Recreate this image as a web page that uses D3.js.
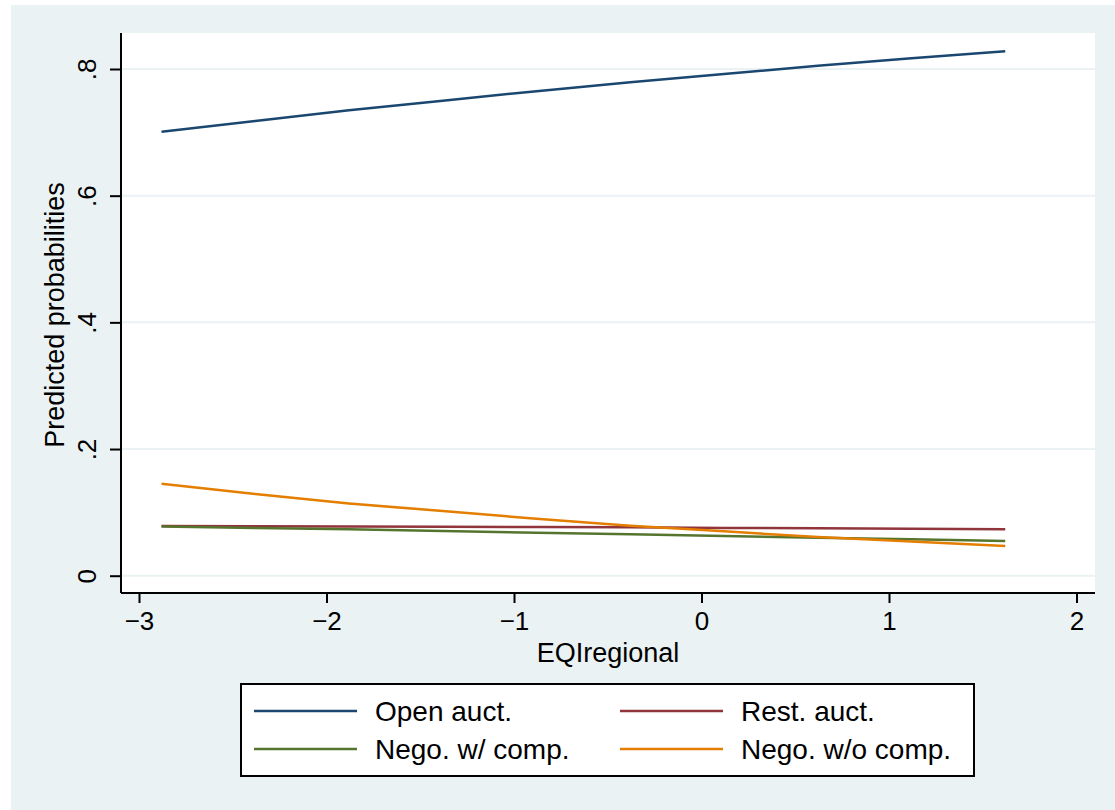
<!DOCTYPE html>
<html lang="en">
<head>
    <meta charset="UTF-8">
    <title>Predicted probabilities by EQIregional</title>
    <script src="https://d3js.org/d3.v7.min.js"></script>
    <style>
        body { margin: 0; background: #fff; }
        svg { display: block; font-family: "Liberation Sans", Arial, Helvetica, sans-serif; }
        .tick-label { font-size: 26px; fill: #000; }
        .axis-title { font-size: 27px; fill: #000; }
        .legend-label { font-size: 28px; fill: #000; }
    </style>
</head>
<body>
<div id="chart"></div>
<script>
    // values
    const eqi = [-2.88, -2.38, -1.88, -1.38, -0.88, -0.38, 0.12, 0.62, 1.12, 1.62];
    const openAuct = [0.701, 0.718, 0.735, 0.750, 0.765, 0.779, 0.792, 0.805, 0.817, 0.828];
    const restAuct = [0.0785, 0.0780, 0.0777, 0.0773, 0.0768, 0.0763, 0.0755, 0.0748, 0.0740, 0.0733];
    const negoComp = [0.0775, 0.0755, 0.0732, 0.0706, 0.0680, 0.0655, 0.0628, 0.0600, 0.0574, 0.0548];
    const negoNoComp = [0.145, 0.129, 0.114, 0.102, 0.090, 0.079, 0.070, 0.061, 0.054, 0.047];

    const seriesNames = ["Open auct.", "Rest. auct.", "Nego. w/ comp.", "Nego. w/o comp."];
    const seriesColors = ["#1a476f", "#90353b", "#55752f", "#e37e00"];
    const xTicks = [-3, -2, -1, 0, 1, 2];
    const yTicks = [0, 0.2, 0.4, 0.6, 0.8];
    const yTickLabels = ["0", ".2", ".4", ".6", ".8"];

    const series = [openAuct, restAuct, negoComp, negoNoComp].map((vals, i) => ({
        name: seriesNames[i],
        color: seriesColors[i],
        points: vals.map((v, j) => ({ x: eqi[j], y: v }))
    }));

    const width = 1115;
    const height = 810;
    const plot = { left: 121, right: 1095, top: 33, bottom: 593 };

    const svg = d3.select("#chart")
        .append("svg")
        .attr("width", width)
        .attr("height", height);

    // outer graph region
    svg.append("rect")
        .attr("x", 11).attr("y", 5)
        .attr("width", width - 11).attr("height", height - 5)
        .attr("fill", "#eaf2f3");

    const x = d3.scaleLinear().domain([-3, 2]).range([139, 1076.5]);
    const y = d3.scaleLinear().domain([0, 0.8]).range([575.7, 69]);

    svg.append("rect")
        .attr("x", plot.left).attr("y", plot.top)
        .attr("width", plot.right - plot.left)
        .attr("height", plot.bottom - plot.top)
        .attr("fill", "#fff");

    // grid lines
    svg.append("g")
        .selectAll("line")
        .data(yTicks)
        .join("line")
        .attr("x1", plot.left).attr("x2", plot.right)
        .attr("y1", d => y(d)).attr("y2", d => y(d))
        .attr("stroke", "#eaf2f3")
        .attr("stroke-width", 2);

    // series
    const line = d3.line().x(d => x(d.x)).y(d => y(d.y));
    svg.append("g")
        .selectAll("path")
        .data(series)
        .join("path")
        .attr("d", d => line(d.points))
        .attr("fill", "none")
        .attr("stroke", d => d.color)
        .attr("stroke-width", 2.5);

    // y axis
    const yAxis = svg.append("g")
        .attr("transform", `translate(${plot.left},0)`)
        .call(d3.axisLeft(y).tickValues(yTicks).tickSize(11).tickFormat((d, i) => yTickLabels[i]));
    yAxis.select(".domain")
        .attr("d", `M0,${plot.top}V${plot.bottom}`)
        .attr("stroke", "#000")
        .attr("stroke-width", 2);
    yAxis.selectAll(".tick line").attr("stroke", "#000").attr("stroke-width", 2);
    yAxis.selectAll(".tick text")
        .attr("class", "tick-label")
        .attr("font-size", null)
        .attr("font-family", null)
        .attr("x", null).attr("dy", null)
        .attr("text-anchor", "middle")
        .attr("transform", "translate(-25,0) rotate(-90)");

    // x axis
    const xAxis = svg.append("g")
        .attr("transform", `translate(0,${plot.bottom})`)
        .call(d3.axisBottom(x).tickValues(xTicks).tickSize(10).tickFormat(d => d < 0 ? "\u2212" + Math.abs(d) : d));
    xAxis.select(".domain")
        .attr("d", `M${plot.left},0H${plot.right}`)
        .attr("stroke", "#000")
        .attr("stroke-width", 2);
    xAxis.selectAll(".tick line").attr("stroke", "#000").attr("stroke-width", 2);
    xAxis.selectAll(".tick text")
        .attr("class", "tick-label")
        .attr("font-size", null)
        .attr("font-family", null)
        .attr("y", 37).attr("dy", null);

    // axis titles
    svg.append("text")
        .attr("class", "axis-title")
        .attr("text-anchor", "middle")
        .attr("x", (plot.left + plot.right) / 2)
        .attr("y", 662)
        .text("EQIregional");

    svg.append("text")
        .attr("class", "axis-title")
        .attr("text-anchor", "middle")
        .attr("transform", `translate(64,${(plot.top + plot.bottom) / 2 + 2}) rotate(-90)`)
        .text("Predicted probabilities");

    // legend
    const legend = svg.append("g");
    legend.append("rect")
        .attr("x", 241).attr("y", 684)
        .attr("width", 733).attr("height", 92)
        .attr("fill", "#fff")
        .attr("stroke", "#000")
        .attr("stroke-width", 2);

    const item = legend.selectAll("g.item")
        .data(series)
        .join("g")
        .attr("class", "item")
        .attr("transform", (d, i) => `translate(${i % 2 === 0 ? 254 : 620},${i < 2 ? 711 : 749})`);
    item.append("line")
        .attr("x1", 0).attr("x2", 103)
        .attr("stroke", d => d.color)
        .attr("stroke-width", 2.5);
    item.append("text")
        .attr("class", "legend-label")
        .attr("x", 121)
        .attr("y", 10)
        .text(d => d.name);
</script>
</body>
</html>
